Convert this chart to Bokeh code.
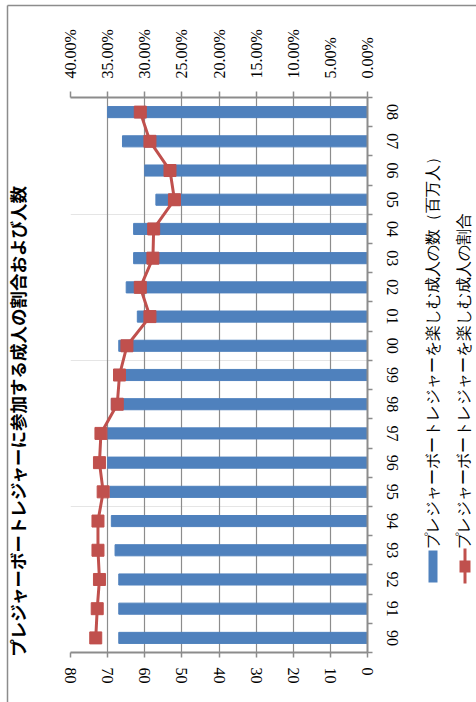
import math
from bokeh.plotting import figure
from bokeh.models import (Range1d, LinearAxis, FixedTicker, PrintfTickFormatter,
                          Grid, ColumnDataSource)
from bokeh.embed import file_html
from bokeh.resources import INLINE

# ---- data ----
years = ["90", "91", "92", "93", "94", "95", "96", "97", "98", "99",
         "00", "01", "02", "03", "04", "05", "06", "07", "08"]
adults_millions = [67, 67, 67, 68, 69, 69.4, 70, 70, 69, 68.4,
                   67, 62, 65, 63, 63, 57, 60, 66, 70]
adults_share_pct = [36.6, 36.4, 36.1, 36.3, 36.3, 35.6, 36.1, 35.9, 33.7, 33.4,
                    32.4, 29.3, 30.6, 28.9, 28.8, 26.0, 26.6, 29.3, 30.6]
count_ticks = [0, 10, 20, 30, 40, 50, 60, 70, 80]
pct_ticks = [0, 5, 10, 15, 20, 25, 30, 35, 40]
title_text = "プレジャーボートレジャーに参加する成人の割合および人数"
legend_labels = ["プレジャーボートレジャーを楽しむ成人の数（百万人）",
                 "プレジャーボートレジャーを楽しむ成人の割合"]

BAR = "#4F81BD"
LINE = "#C0504D"
GRAY = "#8C8C8C"
SERIF = "Liberation Serif"
CJK = "Noto Sans CJK JP"

# frame placement in page pixels
FL, FR, FT, FB = 70, 367, 97, 652
W, H = 476, 702

n = len(years)
slot = [i + 0.5 for i in range(n)]          # category slot centres
src = ColumnDataSource(dict(year=years, slot=slot, count=adults_millions, pct=adults_share_pct))

p = figure(width=W, height=H, output_backend="svg", toolbar_location=None,
           x_range=Range1d(count_ticks[-1], count_ticks[0]),
           y_range=Range1d(0, n),
           x_axis_location=None, y_axis_location=None,
           min_border_left=FL, min_border_right=W - FR, min_border_top=FT, min_border_bottom=H - FB,
           background_fill_color="white", border_fill_color="white", outline_line_color=None)
p.extra_x_ranges = {"pct": Range1d(pct_ticks[-1], pct_ticks[0]),
                    "px": Range1d(FL, FR)}       # page-pixel mapping for decorations
p.extra_y_ranges = {"px": Range1d(FB, FT)}

p.add_layout(Grid(dimension=0, ticker=FixedTicker(ticks=count_ticks),
                  grid_line_color=GRAY, grid_line_width=1.2))

def style_axis(ax):
    ax.axis_line_color = GRAY
    ax.axis_line_width = 2
    ax.major_tick_line_color = GRAY
    ax.major_tick_line_width = 1.5
    ax.minor_tick_line_color = GRAY
    ax.minor_tick_line_width = 1.5
    ax.major_label_text_font = SERIF
    ax.major_label_text_font_size = "16px"
    ax.major_label_text_color = "black"
    ax.major_label_orientation = "vertical"

ax_b = LinearAxis(ticker=FixedTicker(ticks=count_ticks))
style_axis(ax_b)
ax_b.major_tick_out = 5
ax_b.major_tick_in = 0
ax_b.minor_tick_out = 0
ax_b.major_label_standoff = 10
p.add_layout(ax_b, "below")

ax_t = LinearAxis(x_range_name="pct", ticker=FixedTicker(ticks=pct_ticks),
                  formatter=PrintfTickFormatter(format="%.2f%%"))
style_axis(ax_t)
ax_t.major_tick_out = 6
ax_t.major_tick_in = 0
ax_t.minor_tick_out = 0
ax_t.major_label_standoff = 13
p.add_layout(ax_t, "above")

ax_r = LinearAxis(ticker=FixedTicker(ticks=slot, minor_ticks=list(range(n + 1))),
                  major_label_overrides={s: y for s, y in zip(slot, years)})
style_axis(ax_r)
ax_r.major_tick_out = 0
ax_r.major_tick_in = 0
ax_r.minor_tick_out = 5
ax_r.minor_tick_in = 0
ax_r.major_label_standoff = 14
p.add_layout(ax_r, "right")

p.hbar(y="slot", left=0, right="count", height=0.38, color=BAR, source=src)
p.line(x="pct", y="slot", x_range_name="pct", line_color=LINE, line_width=3, source=src)
p.scatter(x="pct", y="slot", x_range_name="pct", marker="square", size=12,
          fill_color=LINE, line_color=LINE, source=src)

# ---- decorations outside the frame (page-pixel coordinates, overlay level) ----
deco = dict(x_range_name="px", y_range_name="px", level="overlay")

# vertical title
p.text(x=[17], y=[420], text=[title_text], angle=math.pi / 2,
       text_align="center", text_baseline="middle",
       text_font={"value": CJK}, text_font_size="17.5px", text_font_style="bold",
       text_color="black", **deco)

# legend
p.quad(left=[428], right=[437], top=[550], bottom=[582], fill_color=BAR, line_color=None, **deco)
p.segment(x0=[464.5], y0=[548], x1=[464.5], y1=[583], line_color=LINE, line_width=3, **deco)
p.quad(left=[459], right=[470], top=[560], bottom=[572], fill_color=LINE, line_color=None, **deco)
p.text(x=[432, 463], y=[548, 548], text=legend_labels, angle=math.pi / 2,
       text_align="left", text_baseline="middle",
       text_font={"value": SERIF}, text_font_size="16.3px", text_color="black", **deco)

# outer chart border (only its top and left edges fall inside the page)
p.segment(x0=[7, 7], y0=[5, 5], x1=[7, W + 5], y1=[H + 5, 5],
          line_color=GRAY, line_width=1.5, **deco)

open("out.html", "w").write(file_html(p, INLINE))
